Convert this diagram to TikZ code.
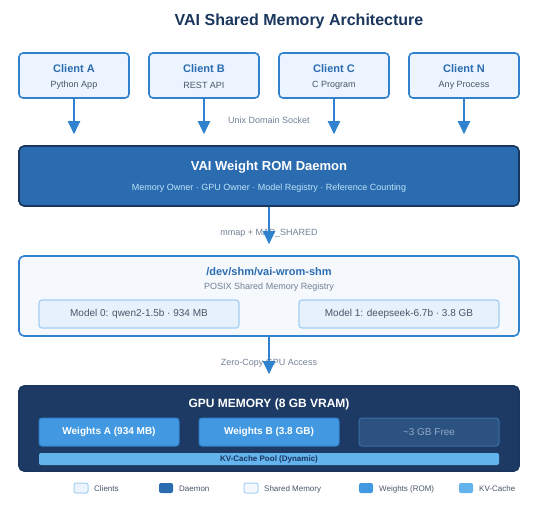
\documentclass[tikz,border=0pt]{standalone}
\usepackage{fontspec}
\setmainfont{Liberation Sans}
\usetikzlibrary{arrows.meta}
\definecolor{navy}{HTML}{1A365D}
\definecolor{midblue}{HTML}{2B6CB0}
\definecolor{cborder}{HTML}{3182CE}
\definecolor{cfill}{HTML}{EBF4FF}
\definecolor{shmfill}{HTML}{F5F9FD}
\definecolor{modfill}{HTML}{E6F1FC}
\definecolor{modborder}{HTML}{A3CFF2}
\definecolor{wfill}{HTML}{4299E1}
\definecolor{kvfill}{HTML}{63B3ED}
\definecolor{gpufill}{HTML}{1C3A63}
\definecolor{freefill}{HTML}{2C5282}
\definecolor{freeborder}{HTML}{3B6EA8}
\definecolor{freetext}{HTML}{8FA8C8}
\definecolor{subgray}{HTML}{4A5568}
\definecolor{lblgray}{HTML}{718096}
\definecolor{arrowc}{HTML}{3182CE}
\definecolor{daemonsub}{HTML}{BEE3F8}
\tikzset{
  clientbox/.style={draw=cborder, fill=cfill, line width=1.6pt, rounded corners=4pt, minimum width=110pt, minimum height=45pt},
  bigbox/.style={rounded corners=5pt, minimum width=500pt, line width=1.6pt},
  modelbox/.style={draw=modborder, fill=modfill, line width=1.2pt, rounded corners=3pt, minimum width=200pt, minimum height=28pt, font=\fontsize{10}{12}\selectfont, text=subgray},
  wbox/.style={draw=cborder, fill=wfill, line width=1pt, rounded corners=3pt, minimum width=140pt, minimum height=28pt, font=\fontsize{10}{12}\selectfont\bfseries, text=white},
  flow/.style={draw=arrowc, line width=2pt, -{Triangle[width=12pt,length=13pt]}, shorten >=11pt},
  lbl/.style={font=\fontsize{9}{11}\selectfont, text=lblgray},
  swatch/.style={rounded corners=2pt, minimum width=14pt, minimum height=10pt, inner sep=0pt},
  legtxt/.style={font=\fontsize{8}{10}\selectfont, text=subgray, anchor=west, inner sep=0pt},
  ctitle/.style={font=\fontsize{11}{13}\selectfont\bfseries, text=midblue},
  csub/.style={font=\fontsize{9}{11}\selectfont, text=subgray},
}
\begin{document}
\begin{tikzpicture}[x=1pt,y=-1pt]
\useasboundingbox (0,0) rectangle (549,506);
\node[font=\fontsize{16}{19}\selectfont\bfseries, text=navy] (title) at (299,21) {VAI Shared Memory Architecture};

% clients
\node[clientbox] (ca) at (74,75.5) {};
\node[clientbox] (cb) at (204,75.5) {};
\node[clientbox] (cc) at (334,75.5) {};
\node[clientbox] (cn) at (464,75.5) {};
\node[ctitle] (cat) at (74,69) {Client A};
\node[csub] (cas) at (74,85) {Python App};
\node[ctitle] (cbt) at (204,69) {Client B};
\node[csub] (cbs) at (204,85) {REST API};
\node[ctitle] (cct) at (334,69) {Client C};
\node[csub] (ccs) at (334,85) {C Program};
\node[ctitle] (cnt) at (464,69) {Client N};
\node[csub] (cns) at (464,85) {Any Process};

% daemon
\node[bigbox, draw=navy, fill=midblue, minimum height=60pt] (daemon) at (269,176) {};
\node[font=\fontsize{13}{15}\selectfont\bfseries, text=white] (dt) at (269,167) {VAI Weight ROM Daemon};
\node[font=\fontsize{9}{11}\selectfont, text=daemonsub] (ds) at (269,188) {Memory Owner · GPU Owner · Model Registry · Reference Counting};

% shared memory
\node[bigbox, draw=cborder, fill=shmfill, minimum height=80pt] (shm) at (269,296) {};
\node[font=\fontsize{11}{13}\selectfont\bfseries, text=midblue] (st) at (269,272) {/dev/shm/vai-wrom-shm};
\node[font=\fontsize{9}{11}\selectfont, text=lblgray] (ss) at (269,287) {POSIX Shared Memory Registry};
\node[modelbox] (m0) at (139,314) {Model 0: qwen2-1.5b · 934 MB};
\node[modelbox] (m1) at (399,314) {Model 1: deepseek-6.7b · 3.8 GB};

% gpu
\node[bigbox, draw=navy, fill=gpufill, minimum height=85pt] (gpu) at (269,428.5) {};
\node[font=\fontsize{12}{14}\selectfont\bfseries, text=white] (gt) at (269,404) {GPU MEMORY (8 GB VRAM)};
\node[wbox] (wa) at (109,432) {Weights A (934 MB)};
\node[wbox] (wb) at (269,432) {Weights B (3.8 GB)};
\node[draw=freeborder, fill=freefill, line width=1pt, rounded corners=3pt, minimum width=140pt, minimum height=28pt, font=\fontsize{10}{12}\selectfont, text=freetext] (free) at (429,432) {\textasciitilde 3 GB Free};
\node[fill=kvfill, rounded corners=2pt, minimum width=460pt, minimum height=12pt, inner sep=0pt, font=\fontsize{8}{9}\selectfont\bfseries, text=navy] (kv) at (269,459) {KV-Cache Pool (Dynamic)};

% labels under arrows
\node[lbl] (uds) at (269,120) {Unix Domain Socket};
\node[lbl] (mm) at (269,233) {mmap + MAP\_SHARED};
\node[lbl] (zc) at (269,363) {Zero-Copy GPU Access};

% arrows
\draw[flow] (ca.south) -- (ca.south |- daemon.north);
\draw[flow] (cb.south) -- (cb.south |- daemon.north);
\draw[flow] (cc.south) -- (cc.south |- daemon.north);
\draw[flow] (cn.south) -- (cn.south |- daemon.north);
\draw[flow] (daemon.south) -- (shm.north);
\draw[flow] (shm.south) -- (gpu.north);

% legend
\node[swatch, draw=modborder, fill=cfill, line width=1pt] (lg1) at (81,488) {};
\node[legtxt] (lt1) at (94,489) {Clients};
\node[swatch, fill=midblue] (lg2) at (166,488) {};
\node[legtxt] (lt2) at (179,489) {Daemon};
\node[swatch, draw=modborder, fill=shmfill, line width=1pt] (lg3) at (251,488) {};
\node[legtxt] (lt3) at (264,489) {Shared Memory};
\node[swatch, fill=wfill] (lg4) at (366,488) {};
\node[legtxt] (lt4) at (379,489) {Weights (ROM)};
\node[swatch, fill=kvfill] (lg5) at (466,488) {};
\node[legtxt] (lt5) at (479,489) {KV-Cache};
\end{tikzpicture}
\end{document}
